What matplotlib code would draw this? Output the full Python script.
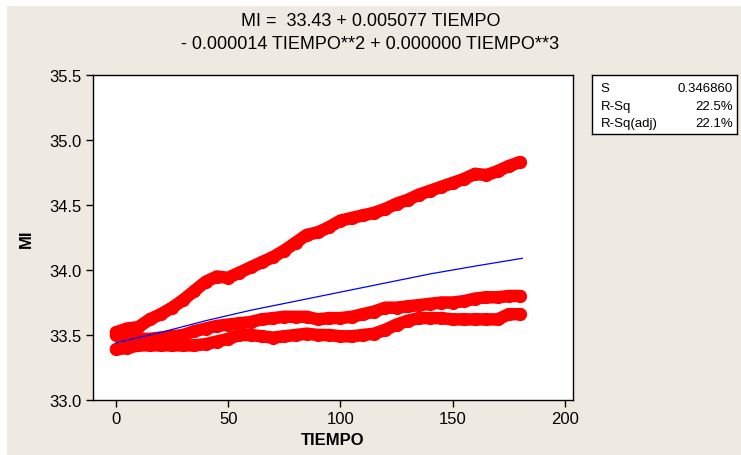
import numpy as np
import matplotlib
matplotlib.use("Agg")
import matplotlib.pyplot as plt
from matplotlib.patches import Rectangle

# TIEMPO values (every 5 units)
tiempo = [0, 5, 10, 15, 20, 25, 30, 35, 40, 45, 50, 55, 60, 65, 70, 75, 80, 85, 90,
          95, 100, 105, 110, 115, 120, 125, 130, 135, 140, 145, 150, 155, 160, 165,
          170, 175, 180]

mi_alto = [33.52, 33.55, 33.56, 33.62, 33.66, 33.71, 33.77, 33.84, 33.91, 33.95,
           33.94, 33.98, 34.02, 34.06, 34.10, 34.15, 34.21, 34.27, 34.29, 34.33,
           34.38, 34.40, 34.42, 34.44, 34.47, 34.51, 34.54, 34.58, 34.61, 34.64,
           34.67, 34.70, 34.74, 34.73, 34.76, 34.80, 34.83]

mi_medio = [33.50, 33.48, 33.47, 33.47, 33.48, 33.49, 33.50, 33.53, 33.55, 33.57,
            33.58, 33.59, 33.60, 33.62, 33.63, 33.64, 33.64, 33.64, 33.62, 33.63,
            33.63, 33.64, 33.66, 33.68, 33.71, 33.71, 33.72, 33.73, 33.74, 33.75,
            33.75, 33.76, 33.78, 33.79, 33.79, 33.80, 33.80]

mi_bajo = [33.39, 33.40, 33.42, 33.42, 33.42, 33.42, 33.42, 33.42, 33.43, 33.45,
           33.47, 33.50, 33.50, 33.49, 33.48, 33.49, 33.50, 33.51, 33.50, 33.50,
           33.49, 33.49, 33.50, 33.51, 33.54, 33.58, 33.61, 33.63, 33.63, 33.63,
           33.62, 33.62, 33.62, 33.62, 33.62, 33.66, 33.66]

# fitted line
fit_x = [0, 20, 40, 60, 80, 100, 120, 140, 160, 181]
fit_y = [33.44, 33.52, 33.61, 33.69, 33.76, 33.83, 33.90, 33.97, 34.03, 34.09]

stats_labels = ["S", "R-Sq", "R-Sq(adj)"]
stats_values = ["0.346860", "22.5%", "22.1%"]

titulo = "MI =  33.43 + 0.005077 TIEMPO\n- 0.000014 TIEMPO**2 + 0.000000 TIEMPO**3"

bg = "#EEEAE1"
fuente = "Liberation Sans"

fig = plt.figure(figsize=(7.41, 4.56), dpi=100, facecolor="white")
fig.patches.append(Rectangle((7/741, 0), 1, 1 - 7/456, transform=fig.transFigure,
                             facecolor=bg, edgecolor="none", zorder=-10))

ax = fig.add_axes([93/741, 55/456, 480/741, 325/456])
ax.set_facecolor("white")

for serie in (mi_alto, mi_medio, mi_bajo):
    ax.plot(tiempo, serie, color="red", lw=9.0, solid_capstyle="round",
            solid_joinstyle="round", marker="o", ms=8.5, mec="red", mfc="red")

ax.plot(fit_x, fit_y, color="#0000FF", lw=0.9)

ax.set_xlim(-10.2, 203.6)
ax.set_ylim(33.0, 35.5)
ax.set_xticks([0, 50, 100, 150, 200])
ax.set_yticks([33.0, 33.5, 34.0, 34.5, 35.0, 35.5])
ax.set_yticklabels([f"{v:.1f}" for v in [33.0, 33.5, 34.0, 34.5, 35.0, 35.5]])
ax.tick_params(direction="out", length=5, width=1, color="black",
               labelsize=12, pad=3)
for lab in ax.get_xticklabels() + ax.get_yticklabels():
    lab.set_family(fuente)
for sp in ax.spines.values():
    sp.set_color("black")
    sp.set_linewidth(1)

ax.set_xlabel("TIEMPO", fontsize=12, fontweight="bold", family=fuente, labelpad=4)
ax.set_ylabel("MI", fontsize=12, fontweight="bold", family=fuente, labelpad=11)

fig.text(0.5, 1 - 33/456, titulo, ha="center", va="center", fontsize=13,
         family=fuente, linespacing=1.45)

# stats box
box = fig.add_axes([592/741, (456 - 135)/456, 145/741, 59/456])
box.set_facecolor("white")
box.set_xticks([])
box.set_yticks([])
for sp in box.spines.values():
    sp.set_color("black")
    sp.set_linewidth(1)
for i, (l, v) in enumerate(zip(stats_labels, stats_values)):
    yy = 0.78 - i * 0.3
    box.text(0.06, yy, l, transform=box.transAxes, ha="left", va="center",
             fontsize=9.5, family=fuente)
    box.text(0.97, yy, v, transform=box.transAxes, ha="right", va="center",
             fontsize=9.5, family=fuente)

fig.savefig("out.png", dpi=100, facecolor=fig.get_facecolor())
